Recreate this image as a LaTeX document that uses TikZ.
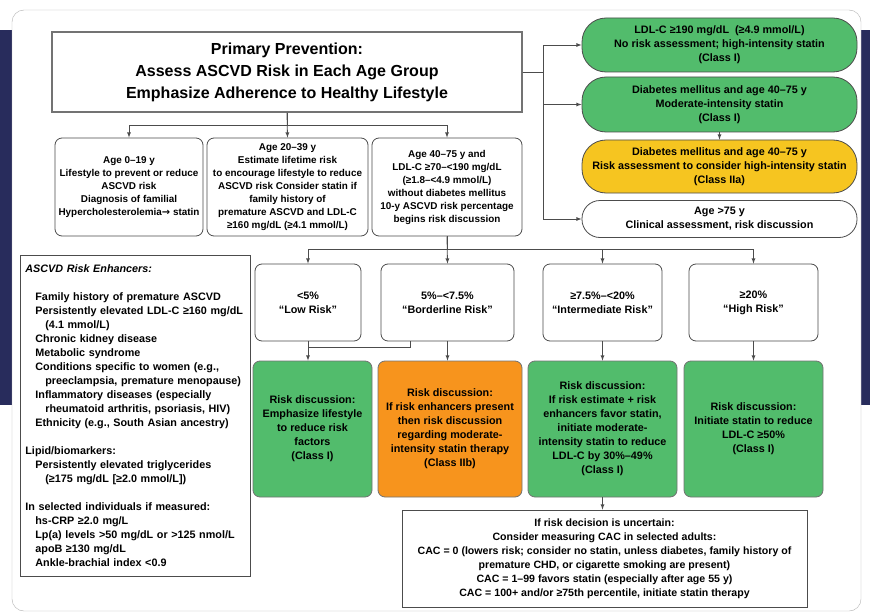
\documentclass[tikz,border=0pt]{standalone}
\usepackage{fontspec}
\setmainfont{Liberation Sans}
\newfontfamily\arrowfont{DejaVu Sans}
\usepackage{tikz}
\definecolor{navy}{RGB}{40,44,92}
\definecolor{stgreen}{RGB}{82,188,108}
\definecolor{storange}{RGB}{247,148,29}
\definecolor{styellow}{RGB}{246,197,32}
\newcommand{\boxfont}{\fontsize{10.8}{14}\selectfont\bfseries}
\newcommand{\agefont}{\fontsize{9.9}{13}\selectfont\bfseries}
\newcommand{\enhfont}{\fontsize{10.8}{14}\selectfont\bfseries}
\newcommand{\cacfont}{\fontsize{10.6}{14}\selectfont\bfseries}
\newcommand{\titlefont}{\fontsize{16}{22}\selectfont\bfseries}
\tikzstyle{card} = [draw=black!30, fill=white, rounded corners=12pt]
\tikzstyle{head} = [draw=black!55, line width=1.2pt, fill=white, font=\titlefont, align=center, minimum width=470pt, minimum height=80pt]
\tikzstyle{pill} = [draw=black!70, line width=0.8pt, rounded corners=24pt, font=\boxfont, align=center, minimum width=275pt, inner sep=1pt]
\tikzstyle{agebox} = [draw=black!70, line width=0.8pt, fill=white, rounded corners=7pt, font=\boxfont, align=center, inner sep=1pt]
\tikzstyle{advice} = [agebox, draw=black!55, minimum height=136pt]
\tikzstyle{gfill} = [fill=stgreen]
\tikzstyle{ofill} = [fill=storange]
\tikzstyle{yfill} = [fill=styellow]
\tikzstyle{enh} = [draw=black!70, line width=0.8pt, fill=white, font=\enhfont, align=left, text width=220pt, minimum height=321pt, inner xsep=5pt, anchor=north west]
\tikzstyle{link} = [draw=black!70, line width=0.8pt]

\begin{document}
\begin{tikzpicture}[x=1pt, y=-1pt, >=latex]
        \useasboundingbox (0,0) rectangle (870,615);
        \fill[white] (0,0) rectangle (870,615);
        \fill[navy] (0,30) rectangle (870,405);
        \draw[card] (12,10) rectangle (861,611);
        % top: title and the right column
        \node[head](title) at (287,72){Primary Prevention:\\Assess ASCVD Risk in Each Age Group\\Emphasize Adherence to Healthy Lifestyle};
        \node[pill,gfill,minimum height=54pt](p1) at (719.5,45){LDL-C ≥190 mg/dL\ \ (≥4.9 mmol/L)\\No risk assessment; high-intensity statin\\(Class I)};
        \node[pill,gfill,minimum height=55pt](p2) at (719.5,104.5){Diabetes mellitus and age 40--75 y\\Moderate-intensity statin\\(Class I)};
        \node[pill,yfill,minimum height=53pt](p3) at (719.5,166.5){Diabetes mellitus and age 40--75 y\\Risk assessment to consider high-intensity statin\\(Class IIa)};
        \node[pill,fill=white,minimum height=37pt,rounded corners=18pt](p4) at (719.5,219){Age >75 y\\Clinical assessment, risk discussion};
        % age groups
        \node[agebox,font=\agefont,minimum width=148pt,minimum height=98pt](ageA) at (129,187){Age 0--19 y\\Lifestyle to prevent or reduce\\ASCVD risk\\Diagnosis of familial\\Hypercholesterolemia{\arrowfont\bfseries→} statin};
        \node[agebox,font=\agefont,minimum width=161pt,minimum height=98pt](ageB) at (287.5,187){Age 20--39 y\\Estimate lifetime risk\\to encourage lifestyle to reduce\\ASCVD risk Consider statin if\\family history of\\premature ASCVD and LDL-C\\≥160 mg/dL (≥4.1 mmol/L)};
        \node[agebox,font=\agefont,minimum width=150pt,minimum height=98pt](ageC) at (447,187){Age 40--75 y and\\LDL-C ≥70--<190 mg/dL\\(≥1.8--<4.9 mmol/L)\\without diabetes mellitus\\10-y ASCVD risk percentage\\begins risk discussion};
        % risk enhancers
        \node[enh](enh) at (20,255){\textit{ASCVD Risk Enhancers:}\\[14pt]
          \hspace*{10pt}Family history of premature ASCVD\\
          \hspace*{10pt}Persistently elevated LDL-C ≥160 mg/dL\\
          \hspace*{20pt}(4.1 mmol/L)\\
          \hspace*{10pt}Chronic kidney disease\\
          \hspace*{10pt}Metabolic syndrome\\
          \hspace*{10pt}Conditions specific to women (e.g.,\\
          \hspace*{20pt}preeclampsia, premature menopause)\\
          \hspace*{10pt}Inflammatory diseases (especially\\
          \hspace*{20pt}rheumatoid arthritis, psoriasis, HIV)\\
          \hspace*{10pt}Ethnicity (e.g., South Asian ancestry)\\[14pt]
          Lipid/biomarkers:\\
          \hspace*{10pt}Persistently elevated triglycerides\\
          \hspace*{20pt}(≥175 mg/dL [≥2.0 mmol/L])\\[14pt]
          In selected individuals if measured:\\
          \hspace*{10pt}hs-CRP ≥2.0 mg/L\\
          \hspace*{10pt}Lp(a) levels >50 mg/dL or >125 nmol/L\\
          \hspace*{10pt}apoB ≥130 mg/dL\\
          \hspace*{10pt}Ankle-brachial index <0.9};
        % risk categories
        \node[agebox,minimum width=106pt,minimum height=77pt](r1) at (308,302.5){<5\%\\``Low Risk''};
        \node[agebox,minimum width=133pt,minimum height=77pt](r2) at (447.5,302.5){5\%--<7.5\%\\``Borderline Risk''};
        \node[agebox,minimum width=119pt,minimum height=77pt](r3) at (602.5,302.5){≥7.5\%--<20\%\\``Intermediate Risk''};
        \node[agebox,minimum width=129pt,minimum height=77pt](r4) at (753.5,302.5){≥20\%\\``High Risk''};
        \node[advice,gfill,minimum width=119pt](g1) at (312.5,429){Risk discussion:\\Emphasize lifestyle\\to reduce risk\\factors\\(Class I)};
        \node[advice,ofill,minimum width=144pt](g2) at (450,429){Risk discussion:\\If risk enhancers present\\then risk discussion\\regarding moderate-\\intensity statin therapy\\(Class IIb)};
        \node[advice,gfill,minimum width=149pt](g3) at (602.5,429){Risk discussion:\\If risk estimate + risk\\enhancers favor statin,\\initiate moderate-\\intensity statin to reduce\\LDL-C by 30\%--49\%\\(Class I)};
        \node[advice,gfill,minimum width=139pt](g4) at (753.5,429){Risk discussion:\\Initiate statin to reduce\\LDL-C ≥50\%\\(Class I)};
        \node[agebox,font=\cacfont,rounded corners=0pt,minimum width=405pt,minimum height=97pt](cac) at (604.5,558.5){If risk decision is uncertain:\\Consider measuring CAC in selected adults:\\CAC = 0 (lowers risk; consider no statin, unless diabetes, family history of\\premature CHD, or cigarette smoking are present)\\CAC = 1--99 favors statin (especially after age 55 y)\\CAC = 100+ and/or ≥75th percentile, initiate statin therapy};
        % connectors
        \draw[link,->](title.south)--++(0,13)-|(ageA.north);
        \draw[link,->](title.south)--(ageB.north);
        \draw[link,->](title.south)--++(0,13)-|(ageC.north);
        \draw[link,->](title.east)--++(21,0)|-(p1.west);
        \draw[link,->](title.east)--++(21,0)|-(p2.west);
        \draw[link,->](title.east)--++(21,0)|-(p4.west);
        \draw[link,->](p2.south)--(p3.north);
        \draw[link,->](ageC.south)--++(0,13)-|(r1.north);
        \draw[link,->](ageC.south)--(r2.north);
        \draw[link,->](ageC.south)--++(0,13)-|(r3.north);
        \draw[link,->](ageC.south)--++(0,13)-|(r4.north);
        \draw[link]([xshift=30pt]r2.south west)--++(0,6)-|(r1.south);
        \draw[link,->](r1.south)--(r1.south|-g1.north);
        \draw[link,->](r2.south)--(r2.south|-g2.north);
        \draw[link,->](r3.south)--(g3.north);
        \draw[link,->](r4.south)--(g4.north);
        \draw[link,->](g3.south)--(g3.south|-cac.north);
      \end{tikzpicture}
\end{document}
